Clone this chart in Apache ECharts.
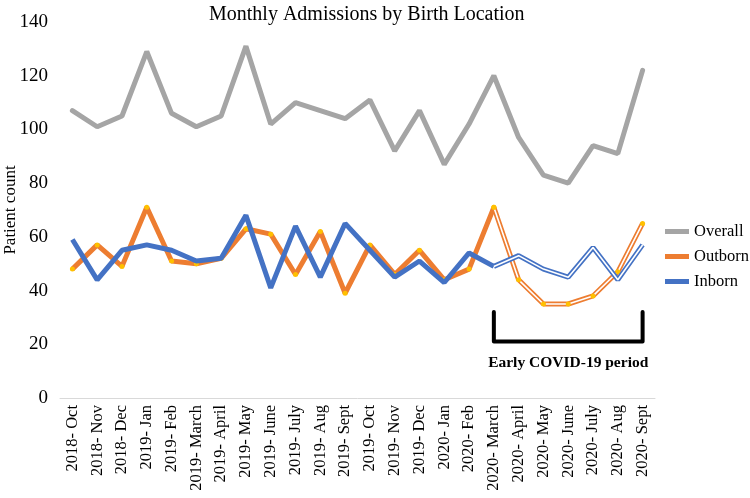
<!DOCTYPE html>
<html>
<head>
<meta charset="UTF-8">
<title>Monthly Admissions by Birth Location</title>
<script type="text/javascript" src="https://cdn.jsdelivr.net/npm/echarts@6/dist/echarts.min.js"></script>
<style>
	body { margin: 0; background: #fff; }
</style>
</head>
<body>
	<div id="div" style="width:750px;height:498px"></div>

	<script type="text/javascript">
		var months = ['2018- Oct', '2018- Nov', '2018- Dec', '2019- Jan', '2019- Feb', '2019- March',
			'2019- April', '2019- May', '2019- June', '2019- July', '2019- Aug', '2019- Sept',
			'2019- Oct', '2019- Nov', '2019- Dec', '2020- Jan', '2020- Feb', '2020- March',
			'2020- April', '2020- May', '2020- June', '2020- July', '2020- Aug', '2020- Sept'];
		var overall = [107, 101, 105, 129, 106, 101, 105, 131, 102, 110, 107, 104,
			111, 92, 107, 87, 102, 120, 97, 83, 80, 94, 91, 122];
		var outborn = [48, 57, 49, 71, 51, 50, 52, 63, 61, 46, 62, 39,
			57, 46, 55, 44, 48, 71, 44, 35, 35, 38, 47, 65];
		var inborn = [59, 44, 55, 57, 55, 51, 52, 68, 41, 64, 45, 65,
			55, 45, 51, 43, 54, 49, 53, 48, 45, 56, 44, 57];
		var covidStart = 17; // 2020- March
		var bracketTop = 32, bracketBottom = 21, labelY = 13;

		var serif = '"Liberation Serif", "DejaVu Serif", serif';

		// split a series into the solid part and the covid (outlined) part
		function before(arr) {
			return arr.map(function(v, i) { return i <= covidStart ? v : null; });
		}
		function after(arr) {
			return arr.map(function(v, i) { return i >= covidStart ? v : null; });
		}

		var mychart = echarts.init(document.getElementById('div'));
		var option = {
			animation : false,
			title : {
				text : 'Monthly Admissions by Birth Location',
				left : 204,
				top : 0,
				textStyle : { fontFamily : serif, fontWeight : 'normal', fontSize : 20, color : '#000' }
			},
			legend : {
				orient : 'vertical',
				left : 660,
				top : 218,
				itemWidth : 24,
				itemHeight : 5,
				itemGap : 8,
				textStyle : { fontFamily : serif, fontSize : 16.5, color : '#000' },
				data : [
					{ name : 'Overall', icon : 'rect', itemStyle : { color : '#a5a5a5' } },
					{ name : 'Outborn', icon : 'rect', itemStyle : { color : '#ed7d31' } },
					{ name : 'Inborn', icon : 'rect', itemStyle : { color : '#4472c4' } }
				]
			},
			grid : { left : 60, right : 95, top : 22, bottom : 100, containLabel : false, outerBoundsMode : 'none' },
			xAxis : {
				type : 'category',
				data : months,
				boundaryGap : true,
				axisLine : { lineStyle : { color : '#d9d9d9', width : 1 } },
				axisTick : { show : false },
				axisLabel : { rotate : 90, interval : 0, fontFamily : serif, fontSize : 16.5, color : '#000', margin : 7 }
			},
			yAxis : {
				type : 'value',
				min : 0,
				max : 140,
				interval : 20,
				splitLine : { show : false },
				axisLine : { show : false },
				axisLabel : { fontFamily : serif, fontSize : 19, color : '#000', margin : 12 }
			},
			series : [ {
				name : 'Overall',
				type : 'line',
				data : overall,
				symbol : 'none',
				itemStyle : { color : '#a5a5a5' },
				lineStyle : { color : '#a5a5a5', width : 5, cap : 'round' }
			}, {
				name : 'Outborn',
				type : 'line',
				data : before(outborn),
				symbol : 'circle',
				symbolSize : 5,
				itemStyle : { color : '#ffc000', borderWidth : 0 },
				lineStyle : { color : '#ed7d31', width : 5 },
				z : 3
			}, {
				name : 'Inborn',
				type : 'line',
				data : before(inborn),
				symbol : 'none',
				itemStyle : { color : '#4472c4' },
				lineStyle : { color : '#4472c4', width : 5 },
				z : 4
			}, {
				name : 'Outborn covid',
				type : 'line',
				data : after(outborn),
				symbol : 'none',
				lineStyle : { color : '#ed7d31', width : 5 },
				z : 3
			}, {
				name : 'Outborn covid inner',
				type : 'line',
				data : after(outborn),
				symbol : 'circle',
				symbolSize : 5,
				itemStyle : { color : '#ffc000', borderWidth : 0 },
				lineStyle : { color : '#fff', width : 1.6 },
				z : 3
			}, {
				name : 'Inborn covid',
				type : 'line',
				data : after(inborn),
				symbol : 'none',
				lineStyle : { color : '#4472c4', width : 5 },
				z : 4
			}, {
				name : 'Inborn covid inner',
				type : 'line',
				data : after(inborn),
				symbol : 'none',
				lineStyle : { color : '#fff', width : 1.6 },
				z : 4
			}, {
				name : 'bracket',
				type : 'line',
				data : [
					[months[covidStart], bracketTop],
					[months[covidStart], bracketBottom],
					[months[months.length - 1], bracketBottom],
					[months[months.length - 1], bracketTop]
				],
				symbol : 'none',
				silent : true,
				lineStyle : { color : '#000', width : 4, join : 'round', cap : 'round' },
				z : 5
			} ]
		};
		mychart.setOption(option);

		// label under the bracket, and the y axis title
		var mid = mychart.convertToPixel({ gridIndex : 0 }, [(covidStart + months.length - 1) / 2, labelY]);
		var yMid = mychart.convertToPixel({ gridIndex : 0 }, [0, 70]);
		mychart.setOption({
			graphic : [ {
				type : 'text',
				x : mid[0],
				y : mid[1],
				style : {
					text : 'Early COVID-19 period',
					fontFamily : serif,
					fontWeight : 'bold',
					fontSize : 15.5,
					fill : '#000',
					align : 'center',
					verticalAlign : 'middle'
				}
			}, {
				type : 'text',
				x : 11,
				y : yMid[1],
				rotation : Math.PI / 2,
				style : {
					text : 'Patient count',
					fontFamily : serif,
					fontSize : 17,
					fill : '#000',
					align : 'center',
					verticalAlign : 'middle'
				}
			} ]
		});
	</script>
</body>
</html>
